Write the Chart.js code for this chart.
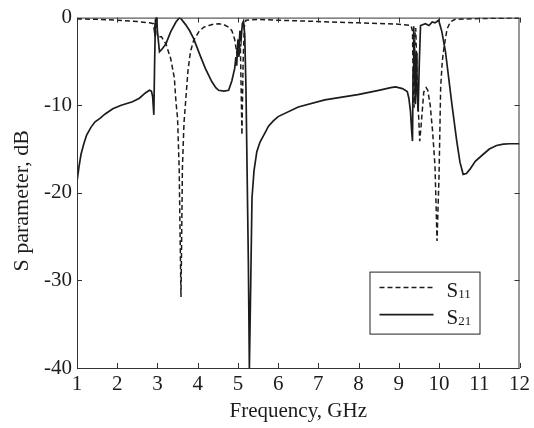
<!DOCTYPE html>
<html><head><meta charset="utf-8">
<script src="https://cdn.jsdelivr.net/npm/chart.js@4/dist/chart.umd.min.js"></script>
<style>html,body{margin:0;padding:0;background:#fff;}#wrap{width:534px;height:428px;}</style>
</head><body><div id="wrap"><canvas id="c" width="534" height="428"></canvas></div>
<script>
// ---- data ----
const s11Freq = [1.0,1.5,2.0,2.5,2.8,2.9,2.925,2.95,2.97,2.99,3.0,3.1,3.21,3.33,3.42,3.46,3.5,3.54,3.57,3.585,3.6,3.62,3.66,3.7,3.76,3.82,3.9,4.03,4.15,4.28,4.4,4.53,4.65,4.77,4.85,4.92,4.97,5.0,5.03,5.06,5.08,5.1,5.13,5.16,5.2,5.5,6.0,7.0,8.0,9.0,9.3,9.34,9.36,9.38,9.4,9.42,9.45,9.48,9.52,9.56,9.62,9.68,9.72,9.78,9.84,9.9,9.95,10.0,10.04,10.08,10.12,10.2,10.28,10.4,11.0,12.0];
const s11Db = [-0.15,-0.2,-0.3,-0.45,-0.6,-0.7,-1.6,-0.3,0,-1.2,-2.2,-2.2,-3.0,-4.7,-6.9,-9.6,-11.5,-17.2,-27,-31.9,-26,-17.2,-12,-9.6,-6,-3.9,-2.6,-1.6,-1.1,-0.9,-0.75,-0.7,-0.8,-1.1,-1.5,-2.5,-4,-3,-4.5,-3,-8,-13.4,-5,-1,-0.3,-0.2,-0.3,-0.45,-0.6,-0.75,-0.9,-1.5,-8,-10.3,-2,-1.2,-6,-10,-14.1,-12,-8.5,-8,-8.3,-10,-13,-17,-25.5,-18,-8,-5,-3.5,-1.3,-0.5,-0.2,-0.1,-0.05];

const s21Freq = [1.0,1.05,1.1,1.17,1.24,1.35,1.45,1.57,1.7,1.89,2.1,2.38,2.55,2.7,2.8,2.85,2.88,2.91,2.93,2.95,2.98,3.0,3.05,3.13,3.21,3.33,3.46,3.54,3.58,3.7,3.8,3.9,4.05,4.19,4.35,4.45,4.52,4.65,4.77,4.85,4.92,4.95,4.97,5.0,5.02,5.05,5.08,5.11,5.14,5.17,5.2,5.23,5.26,5.285,5.3,5.32,5.35,5.4,5.47,5.55,5.68,5.76,5.88,6.0,6.5,7.16,7.98,8.5,8.8,8.92,9.09,9.21,9.25,9.29,9.32,9.34,9.355,9.37,9.39,9.41,9.43,9.45,9.48,9.51,9.54,9.66,9.75,9.83,9.9,9.99,10.07,10.16,10.24,10.32,10.44,10.52,10.6,10.68,10.77,10.9,11.1,11.25,11.43,11.6,11.76,12.0];
const s21Db = [-18.7,-17.0,-15.6,-14.4,-13.4,-12.5,-11.9,-11.5,-11.0,-10.4,-10.0,-9.6,-9.2,-8.6,-8.3,-8.4,-9,-11.1,-5,-0.3,0,-1.6,-3.9,-3.5,-3.0,-1.6,-0.5,-0.05,-0.1,-0.8,-1.5,-2.4,-4.2,-5.8,-7.3,-8.0,-8.3,-8.4,-8.3,-7.2,-5.8,-4.5,-5.5,-2.5,-4.5,-1.5,-2.5,-0.7,-0.4,-2,-8,-18,-28,-40,-40,-30,-20.6,-17.5,-15.3,-14.2,-13.1,-12.4,-11.8,-11.3,-10.2,-9.4,-8.8,-8.3,-8.0,-7.9,-8.1,-8.45,-9.2,-10.7,-13,-14.1,-6,-1,-5,-9.9,-4,-8,-10.7,-5,-0.9,-0.7,-0.9,-0.5,-0.6,-0.3,-1.6,-3.9,-6.9,-9.9,-14.1,-16.5,-17.9,-17.8,-17.3,-16.4,-15.6,-15.0,-14.6,-14.45,-14.4,-14.4];

const seriesLabels = ['S11', 'S21'];
const xTickValues = [1,2,3,4,5,6,7,8,9,10,11,12];
const yTickValues = [0,-10,-20,-30,-40];
const xTitle = 'Frequency, GHz';
const yTitle = 'S parameter, dB';

const toPts = (xs, ys) => xs.map((x, i) => ({x: x, y: ys[i]}));
const INK = '#1c1c1c';
const SERIF = "'Liberation Serif', 'Times New Roman', serif";

const framePlugin = {
  id: 'frame',
  afterDatasetsDraw(chart) {
    const {ctx, chartArea: a, scales} = chart;
    ctx.save();
    ctx.strokeStyle = '#333';
    ctx.lineWidth = 1;
    ctx.strokeRect(a.left + 0.5, a.top + 0.5, a.right - a.left - 1, a.bottom - a.top);
    const L = 5;
    ctx.beginPath();
    scales.x.ticks.forEach(t => {
      const px = Math.round(scales.x.getPixelForValue(t.value)) + 0.5;
      ctx.moveTo(px, a.bottom); ctx.lineTo(px, a.bottom - L);
      ctx.moveTo(px, a.top); ctx.lineTo(px, a.top + L);
    });
    scales.y.ticks.forEach(t => {
      const py = Math.round(scales.y.getPixelForValue(t.value)) + 0.5;
      ctx.moveTo(a.left, py); ctx.lineTo(a.left + L, py);
      ctx.moveTo(a.right, py); ctx.lineTo(a.right - L, py);
    });
    ctx.stroke();

    // y-axis title (rotated)
    ctx.save();
    ctx.translate(22, (a.top + a.bottom) / 2 + 8);
    ctx.rotate(-Math.PI / 2);
    ctx.fillStyle = INK;
    ctx.font = '22px ' + SERIF;
    ctx.textAlign = 'center';
    ctx.textBaseline = 'middle';
    ctx.fillText(yTitle, 0, 0);
    ctx.restore();

    // legend box (inside plot, lower right)
    const bx = a.right - 150, by = a.top + 254, bw = 110, bh = 62;
    ctx.fillStyle = '#fff';
    ctx.fillRect(bx, by, bw, bh);
    ctx.strokeStyle = '#222';
    ctx.lineWidth = 1;
    ctx.strokeRect(bx + 0.5, by + 0.5, bw, bh);
    chart.data.datasets.forEach((ds, i) => {
      const ly = by + 16 + i * 27;
      ctx.beginPath();
      ctx.setLineDash(ds.borderDash || []);
      ctx.strokeStyle = ds.borderColor;
      ctx.lineWidth = ds.borderWidth;
      ctx.moveTo(bx + 10, ly); ctx.lineTo(bx + 64, ly);
      ctx.stroke();
      ctx.setLineDash([]);
      ctx.fillStyle = INK;
      ctx.textAlign = 'left';
      ctx.textBaseline = 'alphabetic';
      ctx.font = '21px ' + SERIF;
      const main = ds.label.charAt(0), sub = ds.label.slice(1);
      const tx = bx + 77, base = ly + 9;
      ctx.fillText(main, tx, base);
      const w = ctx.measureText(main).width;
      ctx.font = '13px ' + SERIF;
      ctx.fillText(sub, tx + w, base + 1);
    });
    ctx.restore();
  }
};

new Chart(document.getElementById('c'), {
  type: 'scatter',
  data: {
    datasets: [
      {label: seriesLabels[0], data: toPts(s11Freq, s11Db), showLine: true, borderColor: INK, borderWidth: 1.5, borderDash: [5, 3], pointRadius: 0, tension: 0, fill: false},
      {label: seriesLabels[1], data: toPts(s21Freq, s21Db), showLine: true, borderColor: INK, borderWidth: 1.7, pointRadius: 0, tension: 0, fill: false}
    ]
  },
  options: {
    responsive: false,
    animation: false,
    devicePixelRatio: 1,
    layout: {padding: {top: 15, right: 11, left: 0, bottom: 0}},
    plugins: {legend: {display: false}, tooltip: {enabled: false}},
    scales: {
      x: {
        type: 'linear', min: 1, max: 12,
        afterBuildTicks: s => { s.ticks = xTickValues.map(v => ({value: v})); },
        afterFit: s => { s.height = 60; },
        grid: {display: false, drawTicks: false},
        border: {display: false},
        ticks: {font: {family: SERIF, size: 21}, color: INK, padding: 4, maxRotation: 0, autoSkip: false},
        title: {display: true, text: xTitle, font: {family: SERIF, size: 21}, color: INK, padding: {top: 0, bottom: 4}}
      },
      y: {
        type: 'linear', min: -40, max: 0,
        afterBuildTicks: s => { s.ticks = yTickValues.map(v => ({value: v})); },
        afterFit: s => { s.width = 77; },
        grid: {display: false, drawTicks: false},
        border: {display: false},
        ticks: {font: {family: SERIF, size: 21}, color: INK, padding: 5, autoSkip: false},
        title: {display: false}
      }
    }
  },
  plugins: [framePlugin]
});
</script>
</body></html>
